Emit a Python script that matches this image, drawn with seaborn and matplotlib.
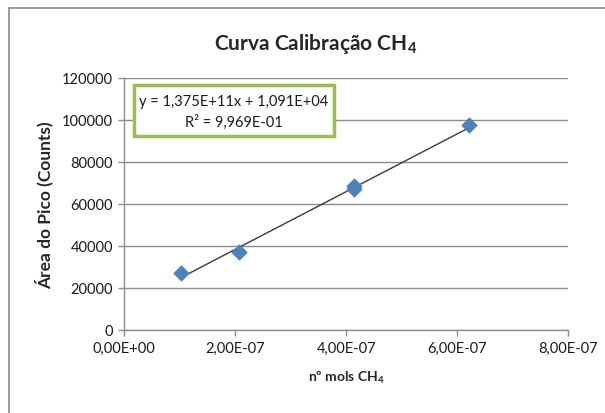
import matplotlib
matplotlib.use("Agg")
import matplotlib.pyplot as plt
from matplotlib.lines import Line2D
from matplotlib.patches import Rectangle
import seaborn as sns
import pandas as pd
import numpy as np

# Calibration points: moles of CH4 vs peak area
mols_ch4 = [1.03e-7, 2.07e-7, 4.14e-7, 4.14e-7, 6.21e-7]
peak_area = [27100, 37000, 68400, 67000, 97500]

# Linear trendline reported by the fit
slope = 1.375e11
intercept = 1.091e4
equation_text = "y = 1,375E+11x + 1,091E+04"
r2_text = "R² = 9,969E-01"

x_ticks = [0, 2e-7, 4e-7, 6e-7, 8e-7]
x_tick_labels = ["0,00E+00", "2,00E-07", "4,00E-07", "6,00E-07", "8,00E-07"]
y_ticks = [0, 20000, 40000, 60000, 80000, 100000, 120000]
y_tick_labels = ["0", "20000", "40000", "60000", "80000", "100000", "120000"]

title = "Curva Calibração CH$_4$"
x_label = "nº mols CH$_4$"
y_label = "Área do Pico (Counts)"

sns.set_theme(style="white")
plt.rcParams["font.family"] = ["Lato", "DejaVu Sans"]
plt.rcParams["mathtext.default"] = "regular"

W, H = 605, 414
fig = plt.figure(figsize=(W / 100, H / 100), dpi=100)
ax = fig.add_axes([124.3 / W, 1 - 331 / H, (568.3 - 124.3) / W, (331 - 79) / H])

df = pd.DataFrame({"mols": mols_ch4, "area": peak_area})

# trendline across the data range
xs = np.array([min(mols_ch4), max(mols_ch4)])
ax.plot(xs, slope * xs + intercept, color="#3a3a3a", lw=1.0, zorder=3)

sns.scatterplot(data=df, x="mols", y="area", marker="D", s=62,
                color="#4F81BD", edgecolor="#4F81BD", linewidth=0.5,
                ax=ax, zorder=4, legend=False)

ax.set_xlim(0, 8e-7)
ax.set_ylim(0, 120000)
ax.set_xticks(x_ticks)
ax.set_xticklabels(x_tick_labels)
ax.set_yticks(y_ticks)
ax.set_yticklabels(y_tick_labels)

ax.yaxis.grid(True, color="#8c8c8c", lw=1.0)
ax.xaxis.grid(False)
ax.set_axisbelow(True)
for side in ("top", "right"):
    ax.spines[side].set_visible(False)
for side in ("left", "bottom"):
    ax.spines[side].set_color("#8c8c8c")
    ax.spines[side].set_linewidth(1.0)

ax.tick_params(axis="both", which="major", direction="out", length=4,
               width=1.0, color="#8c8c8c", labelsize=10.5,
               labelcolor="#1a1a1a", pad=4, left=True, bottom=True)

ax.set_xlabel(x_label, fontsize=10, fontweight="bold", labelpad=10)
ax.set_ylabel(y_label, fontsize=12.5, fontweight="bold", labelpad=6)

fig.text(316 / W, 1 - 44 / H, title, ha="center", va="center",
         fontsize=15, fontweight="bold")

# equation box
box_x0, box_y0, box_x1, box_y1 = 134, 86, 334, 137
fig.add_artist(Rectangle((box_x0 / W, 1 - box_y1 / H),
                         (box_x1 - box_x0) / W, (box_y1 - box_y0) / H,
                         transform=fig.transFigure, facecolor="white",
                         edgecolor="#9BBB59", lw=2.5, zorder=5))
fig.text(234 / W, 1 - 102 / H, equation_text, ha="center", va="center",
         fontsize=10.5, color="#1a1a1a", zorder=6)
fig.text(234 / W, 1 - 122 / H, r2_text, ha="center", va="center",
         fontsize=10.5, color="#1a1a1a", zorder=6)

# chart-area frame
fig.add_artist(Line2D([9 / W, 1], [1 - 9 / H, 1 - 9 / H],
                      transform=fig.transFigure, color="#8c8c8c", lw=1.2))
fig.add_artist(Line2D([9 / W, 9 / W], [0, 1 - 9 / H],
                      transform=fig.transFigure, color="#8c8c8c", lw=1.2))

fig.savefig("out.png", dpi=100)
